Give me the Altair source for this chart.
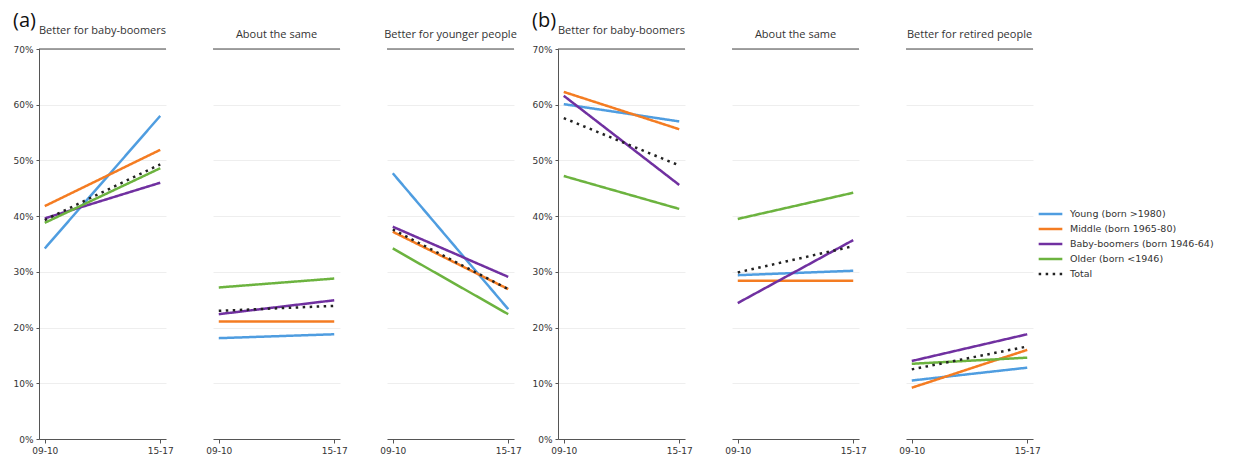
import altair as alt
import pandas as pd

periods = ["09-10", "15-17"]
series = ["Young (born >1980)", "Middle (born 1965-80)", "Baby-boomers (born 1946-64)",
          "Older (born <1946)", "Total"]
colors = ["#4f9de0", "#f47c22", "#7030a0", "#6cb33f", "#222222"]
dashes = [[1, 0], [1, 0], [1, 0], [1, 0], [2.5, 4.5]]

titles_a = ["Better for baby-boomers", "About the same", "Better for younger people"]
titles_b = ["Better for baby-boomers", "About the same", "Better for retired people"]

# Each panel: [09-10, 15-17] in % for Young, Middle, Baby-boomers, Older, Total
a1 = [[34.2, 58.0], [41.8, 51.9], [39.6, 46.0], [38.8, 48.6], [39.3, 49.3]]
a2 = [[18.1, 18.8], [21.1, 21.1], [22.4, 24.9], [27.2, 28.8], [23.0, 23.9]]
a3 = [[47.7, 23.3], [37.2, 26.9], [38.1, 29.1], [34.2, 22.4], [37.6, 26.9]]
b1 = [[60.1, 57.0], [62.3, 55.6], [61.6, 45.6], [47.2, 41.3], [57.6, 49.1]]
b2 = [[29.4, 30.2], [28.4, 28.4], [24.4, 35.7], [39.5, 44.2], [29.9, 34.6]]
b3 = [[10.5, 12.8], [9.2, 16.0], [14.0, 18.8], [13.5, 14.6], [12.5, 16.6]]

y_ticks = [0, 10, 20, 30, 40, 50, 60, 70]
FONT = "DejaVu Sans"
TFONT = "Open Sans"

legend = alt.Legend(title=None, orient="none", legendX=998, legendY=159,
                    symbolType="stroke", symbolStrokeWidth=2.5, symbolSize=560,
                    labelFontSize=9.5, labelFont=FONT, labelColor="#333",
                    clipHeight=12, rowPadding=3, labelOffset=6)


def make_df(vals):
    rows = []
    for s, pair in zip(series, vals):
        for p, v in zip(periods, pair):
            rows.append({"series": s, "period": p, "value": v, "order": series.index(s)})
    return pd.DataFrame(rows)


def panel(vals, title, show_y):
    df = make_df(vals)
    if show_y:
        yaxis = alt.Axis(values=y_ticks, labelExpr="datum.value + '%'", labelFontSize=9,
                         labelColor="#333", labelFont=FONT, domainColor="#555", tickColor="#555",
                         tickSize=3, labelPadding=3, gridColor="#eeeeee", title=None)
    else:
        yaxis = alt.Axis(values=y_ticks, labels=False, ticks=False, domain=False,
                         gridColor="#eeeeee", title=None)
    y = alt.Y("value:Q", scale=alt.Scale(domain=[0, 70], nice=False), axis=yaxis)
    x = alt.X("period:O", sort=periods,
              scale=alt.Scale(type="point", padding=0.05),
              axis=alt.Axis(labelAngle=0, labelFontSize=9, labelColor="#333", labelFont=FONT,
                            domainColor="#555", tickColor="#555", tickSize=4, labelPadding=3,
                            title=None, grid=False))
    lines = alt.Chart(df).mark_line(strokeWidth=2.5).encode(
        x=x, y=y,
        color=alt.Color("series:N", sort=series,
                        scale=alt.Scale(domain=series, range=colors), legend=legend),
        strokeDash=alt.StrokeDash("series:N", sort=series,
                                  scale=alt.Scale(domain=series, range=dashes), legend=legend),
        order=alt.Order("order:Q"),
    )
    top = alt.Chart(pd.DataFrame({"value": [70]})).mark_rule(color="#444", strokeWidth=1).encode(
        y=y
    )
    return alt.layer(lines, top).properties(
        width=127, height=390,
        title=alt.TitleParams(title, fontSize=11, font=TFONT, fontWeight="normal",
                              color="#333", offset=9),
    )


def group(panels_vals, titles, label):
    return alt.hconcat(
        *[panel(v, t, i == 0) for i, (v, t) in enumerate(zip(panels_vals, titles))],
        spacing=31,
        title=alt.TitleParams(label, fontSize=20, font=TFONT, fontWeight="normal",
                              anchor="start", color="#111", offset=-6),
    )


group_a = group([a1, a2, a3], titles_a, "(a)")
group_b = group([b1, b2, b3], titles_b, "(b)")

chart = alt.hconcat(group_a, group_b, spacing=9).configure_view(
    stroke=None
).properties(padding={"left": 4, "right": 0, "top": 3, "bottom": 0})

chart.save("out.html", embed_options={"renderer": "svg", "actions": False})
